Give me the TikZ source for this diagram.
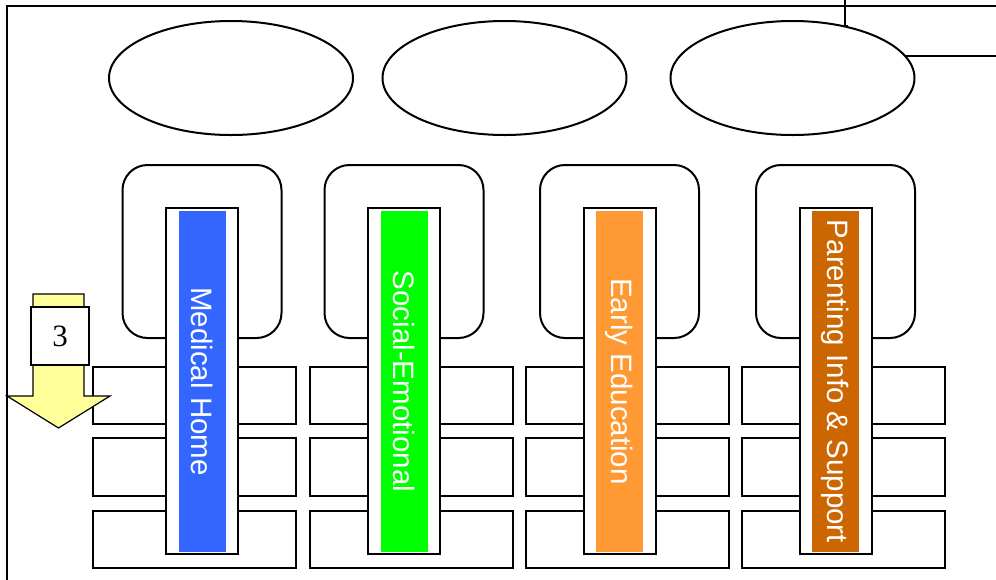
\documentclass[tikz,border=0pt]{standalone}
\usepackage{fontspec}
\setmainfont{Liberation Serif}
\newfontfamily\labelfont{Liberation Sans}
\usetikzlibrary{shapes.geometric}
\definecolor{stripblue}{HTML}{3366FF}
\definecolor{stripgreen}{HTML}{00FF00}
\definecolor{striporange}{HTML}{FF9933}
\definecolor{stripbrown}{HTML}{CC6600}
\definecolor{arrowyellow}{HTML}{FFFF99}
\begin{document}
\begin{tikzpicture}[x=1pt,y=-1pt,
  line width=2pt,
  oval/.style={ellipse,draw,minimum width=244pt,minimum height=114pt,inner sep=0pt},
  loopbox/.style={draw,rounded corners=25pt,minimum width=159pt,minimum height=173pt,inner sep=0pt},
  barbox/.style={draw,fill=white,minimum width=203pt,minimum height=57pt,inner sep=0pt},
  holder/.style={draw,fill=white,minimum width=72pt,minimum height=346pt,inner sep=0pt},
  strip/.style={fill=#1,minimum width=47pt,minimum height=341pt,inner sep=0pt},
  striptext/.style={text=white,font=\labelfont\fontsize{29.5}{32}\selectfont,rotate=-90,inner sep=0pt},
  numbox/.style={draw,fill=white,line width=1.4pt,minimum width=58pt,minimum height=58pt,inner sep=0pt,font=\fontsize{31}{33}\selectfont}
]
\useasboundingbox (0,0) rectangle (996,579);
\fill[white] (0,0) rectangle (996,579);
% frame
\coordinate (ftr) at (1010,6);
\coordinate (ftl) at (7,6);
\coordinate (fbl) at (7,600);
\draw (ftr) -- (ftl) -- (fbl);
% ellipses
\node[oval] (e1) at (231,78) {};
\node[oval] (e2) at (504.5,78) {};
\node[oval] (e3) at (792.5,78) {};
\coordinate (t3) at (845,-5);
\coordinate (r3) at (1010,56);
\draw (e3.43.5) -- (t3 |- e3.43.5) -- (t3);
\draw (e3.11) -- (r3 |- e3.11) -- (r3);
% loops
\foreach \i/\x in {1/202,2/404,3/619.5,4/835.5}{
  \node[loopbox] (L\i) at (\x,251.5) {};
}
% bars
\foreach \i/\x in {1/194.5,2/411,3/627,4/843}{
  \node[barbox] (b\i a) at (\x,395.5) {};
  \node[barbox,minimum height=58pt] (b\i b) at (\x,467) {};
  \node[barbox] (b\i c) at (\x,539.5) {};
}
% holders and strips
\foreach \i/\x/\c/\t in {1/202/stripblue/Medical Home,2/404/stripgreen/Social-Emotional,3/619.5/striporange/Early Education,4/835.5/stripbrown/Parenting Info \& Support}{
  \node[holder] (h\i) at (\x,381) {};
  \node[strip=\c] (s\i) at (\x,381.5) {};
  \node[striptext] (t\i) at (s\i) {\t};
}
% arrow
\draw[fill=arrowyellow,line width=1.2pt] (33,294) -- (84,294) -- (84,396) -- (110,396) -- (58.5,428) -- (7,396) -- (33,396) -- cycle;
\node[numbox] (n3) at (60,336) {3};
\end{tikzpicture}
\end{document}
